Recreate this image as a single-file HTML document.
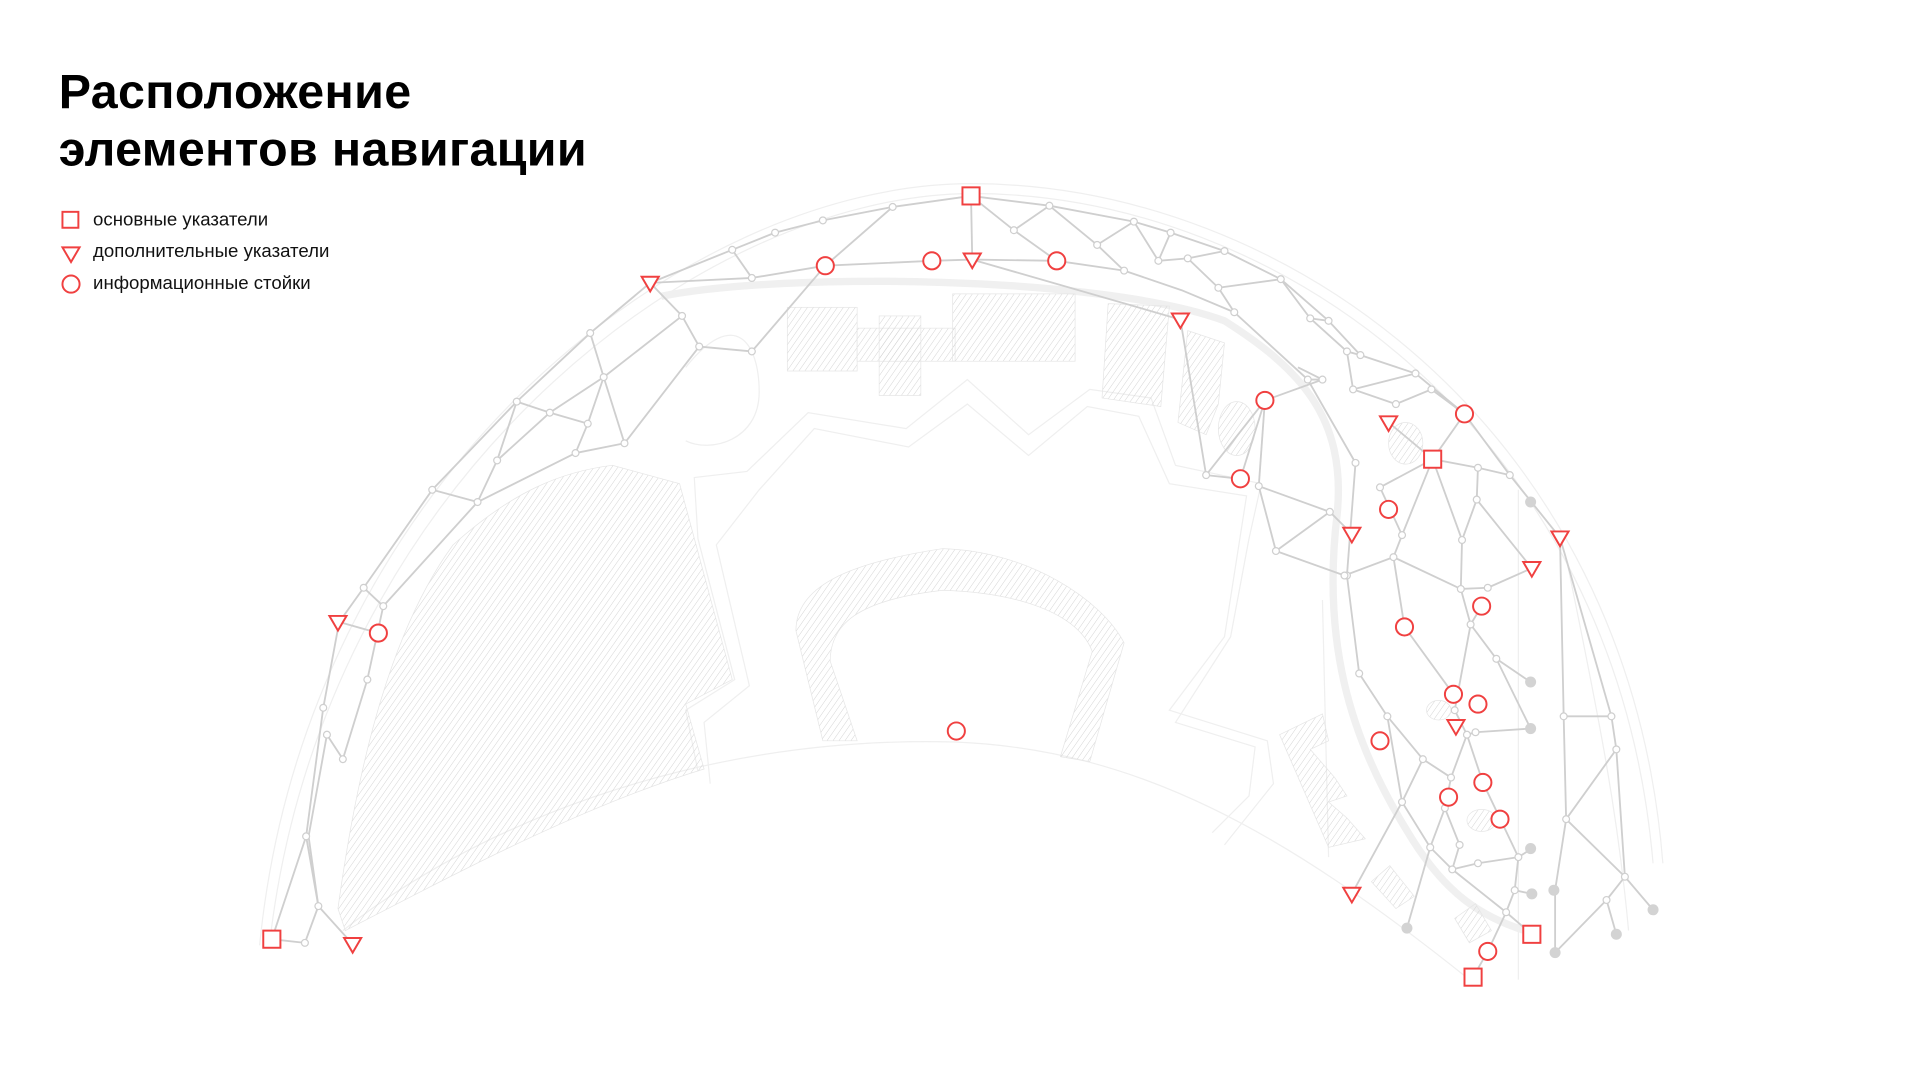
<!DOCTYPE html>
<html><head><meta charset="utf-8"><style>
html,body{margin:0;padding:0;background:#fff;}
svg{display:block}
</style></head><body>
<svg width="1920" height="1080" viewBox="0 0 1568 882" xmlns="http://www.w3.org/2000/svg">
<defs>
<pattern id="h" width="4" height="4" patternUnits="userSpaceOnUse" patternTransform="rotate(35)">
<line x1="0" y1="0" x2="0" y2="4" stroke="#d4d4d4" stroke-width="0.8"/>
</pattern>
</defs>
<rect width="1568" height="882" fill="#fff"/>
<text x="48" y="88" font-family="Liberation Sans, sans-serif" font-weight="bold" font-size="39.5" letter-spacing="0.3" fill="#000">Расположение</text>
<text x="48" y="135" font-family="Liberation Sans, sans-serif" font-weight="bold" font-size="39.5" letter-spacing="0.3" fill="#000">элементов навигации</text>
<g font-family="Liberation Sans, sans-serif" font-size="15.2" fill="#111">
<text x="76" y="184">основные указатели</text>
<text x="76" y="210">дополнительные указатели</text>
<text x="76" y="236">информационные стойки</text>
</g>
<g fill="none" stroke="#f04040" stroke-width="1.6">
<rect x="51" y="173" width="13" height="13"/>
<path d="M51,202 L65,202 L58,214 Z"/>
<circle cx="58" cy="232" r="7"/>
</g>

<g fill="none" stroke="#efefef" stroke-width="1">
<path d="M212,772 C250,390 560,150 793,150 C1050,150 1330,350 1358,705"/>
<path d="M220,772 C262,400 565,160 793,158 C1045,158 1320,355 1350,705"/>
<path d="M280,760 C380,680 560,600 780,606 C930,612 1050,680 1200,800"/>
<path d="M570,630 L560,580 L600,555 L570,440 L567,390 L610,385 L660,337 L740,350 L790,310 L840,355 L890,318 L940,325 L960,380 L1030,395 L1020,440 L1005,520 L960,590 L1025,610 L1020,650 L990,680"/>
<path d="M580,640 L575,590 L612,560 L585,445 L620,400 L665,350 L742,365 L790,330 L840,372 L888,332 L930,340 L955,395 L1018,405 L1000,520 L955,580 L1035,605 L1040,640 L1000,690"/>
<path d="M560,300 C600,250 620,280 620,320 C620,360 580,370 560,360"/>
<path d="M1080,490 L1085,700 M1240,400 L1240,800 M1280,460 C1300,560 1320,650 1330,760"/>
</g>
<path d="M540,242 C640,222 900,225 1000,262 C1060,300 1100,340 1092,420 C1080,520 1100,600 1150,680 C1180,730 1210,750 1252,762" fill="none" stroke="#f0f0f0" stroke-width="6"/>

<g fill="url(#h)" stroke="#e6e6e6" stroke-width="0.6">
<path d="M276,742 C290,640 315,520 370,445 C420,400 460,385 500,380 L555,395 L598,555 L560,575 L575,628 C470,660 360,720 282,760 Z"/>
<rect x="643" y="251" width="57" height="52"/>
<rect x="700" y="268" width="80" height="27"/>
<rect x="718" y="258" width="34" height="65"/>
<rect x="778" y="240" width="100" height="55"/>
<path d="M905,248 L955,250 L948,332 L900,325 Z"/>
<path d="M970,270 L1000,280 L995,330 L985,355 L962,345 Z"/>
<path d="M672,605 L650,515 C650,480 690,460 770,448 C840,450 900,490 918,525 L890,622 L866,618 L892,532 C880,500 830,484 770,482 C700,490 678,510 678,540 L700,605 Z"/>
<path d="M1045,600 L1080,583 L1085,605 L1070,612 L1090,635 L1100,650 L1085,655 L1100,668 L1115,685 L1085,692 Z"/>
<path d="M1120,720 L1135,707 L1155,732 L1140,742 Z"/>
<path d="M1188,750 L1205,738 L1218,760 L1200,770 Z"/>
<ellipse cx="1148" cy="362" rx="14" ry="17"/>
<ellipse cx="1175" cy="580" rx="10" ry="8"/>
<ellipse cx="1210" cy="670" rx="12" ry="9"/>
<ellipse cx="1010" cy="350" rx="15" ry="22"/>
</g>

<g fill="none" stroke="#cfcfcf" stroke-width="1.5" stroke-linejoin="round">
<polyline points="222,767 250,683 264,578 277,508 297,480 353,400 422,328 482,272 531,231 598,204 633,190 672,180 729,169 793,160 857,168 926,181 956,190 1000,205 1046,228 1085,262 1111,290 1156,305 1196,338 1233,388 1274,439 1277,585 1279,669 1270,727 1270,778"/>
<polyline points="288,771 260,740 252,683 267,600 280,620 300,555 313,495 390,410 470,370 510,362 571,283 557,258 531,231"/>
<polyline points="390,410 406,376 449,337 493,308 482,272"/>
<polyline points="571,283 614,287 674,217 729,169"/>
<polyline points="531,231 614,227 674,217 761,213 794,212 863,213 918,221 965,237 1008,255 1068,310 1107,378 1100,470 1110,550 1133,585 1145,655 1168,692 1186,710 1230,745 1215,777 1203,798"/>
<polyline points="598,204 614,227"/>
<polyline points="793,160 794,212"/>
<polyline points="793,160 828,188 857,168"/>
<polyline points="828,188 863,213"/>
<polyline points="857,168 896,200 926,181"/>
<polyline points="896,200 918,221"/>
<polyline points="926,181 946,213 956,190"/>
<polyline points="946,213 970,211 1000,205"/>
<polyline points="970,211 995,235 1046,228"/>
<polyline points="995,235 1008,255"/>
<polyline points="1046,228 1070,260 1085,262"/>
<polyline points="1070,260 1100,287 1111,290"/>
<polyline points="1100,287 1105,318 1156,305"/>
<polyline points="1105,318 1140,330 1169,318 1196,338"/>
<polyline points="1060,300 1080,310 1068,310"/>
<polyline points="794,212 964,261 985,388 1013,391 1033,327 985,388"/>
<polyline points="1033,327 1028,397"/>
<polyline points="1033,327 1080,310"/>
<polyline points="1028,397 1086,418 1104,436"/>
<polyline points="1028,397 1042,450 1086,418"/>
<polyline points="1042,450 1098,470 1138,455"/>
<polyline points="1138,455 1147,512 1187,567"/>
<polyline points="1138,455 1193,481 1215,480 1251,464"/>
<polyline points="1193,481 1194,441 1170,375 1145,437 1138,455"/>
<polyline points="1170,375 1207,382 1233,388"/>
<polyline points="1207,382 1206,408 1194,441"/>
<polyline points="1206,408 1251,464"/>
<polyline points="1196,338 1170,375"/>
<polyline points="1134,345 1170,375 1127,398"/>
<polyline points="1145,437 1127,398"/>
<polyline points="1201,510 1210,495"/>
<polyline points="1201,510 1222,538 1250,557"/>
<polyline points="1193,481 1201,510 1188,580"/>
<polyline points="1222,538 1250,595"/>
<polyline points="1188,580 1198,600 1205,598 1250,595"/>
<polyline points="1198,600 1185,635 1180,660 1168,692"/>
<polyline points="1133,585 1162,620 1185,635"/>
<polyline points="1162,620 1145,655 1104,730"/>
<polyline points="1186,710 1207,705 1240,700 1251,693"/>
<polyline points="1240,700 1211,639 1198,600"/>
<polyline points="1240,700 1237,727 1251,730"/>
<polyline points="1237,727 1230,745 1251,763"/>
<polyline points="1168,692 1149,758"/>
<polyline points="1180,660 1192,690 1186,710"/>
<polyline points="1277,585 1316,585 1320,612 1279,669 1327,716 1350,743"/>
<polyline points="1274,439 1316,585"/>
<polyline points="1320,612 1327,716 1312,735 1270,778"/>
<polyline points="1312,735 1320,763"/>
<polyline points="297,480 313,495"/>
<polyline points="277,508 309,517"/>
<polyline points="250,683 260,740 249,770 222,767"/>
<polyline points="353,400 390,410"/>
<polyline points="406,376 422,328 449,337 480,346 470,370"/>
<polyline points="480,346 493,308 557,258"/>
<polyline points="493,308 510,362"/>
</g>
<g fill="#fff" stroke="#cfcfcf" stroke-width="1">
<circle cx="250" cy="683" r="2.8"/><circle cx="264" cy="578" r="2.8"/><circle cx="297" cy="480" r="2.8"/><circle cx="353" cy="400" r="2.8"/><circle cx="422" cy="328" r="2.8"/><circle cx="482" cy="272" r="2.8"/><circle cx="598" cy="204" r="2.8"/><circle cx="633" cy="190" r="2.8"/><circle cx="672" cy="180" r="2.8"/><circle cx="729" cy="169" r="2.8"/><circle cx="857" cy="168" r="2.8"/><circle cx="926" cy="181" r="2.8"/><circle cx="956" cy="190" r="2.8"/><circle cx="1000" cy="205" r="2.8"/><circle cx="1046" cy="228" r="2.8"/><circle cx="1085" cy="262" r="2.8"/><circle cx="1111" cy="290" r="2.8"/><circle cx="1156" cy="305" r="2.8"/><circle cx="1233" cy="388" r="2.8"/><circle cx="1277" cy="585" r="2.8"/><circle cx="1279" cy="669" r="2.8"/><circle cx="260" cy="740" r="2.8"/><circle cx="249" cy="770" r="2.8"/><circle cx="267" cy="600" r="2.8"/><circle cx="280" cy="620" r="2.8"/><circle cx="300" cy="555" r="2.8"/><circle cx="313" cy="495" r="2.8"/><circle cx="390" cy="410" r="2.8"/><circle cx="470" cy="370" r="2.8"/><circle cx="510" cy="362" r="2.8"/><circle cx="571" cy="283" r="2.8"/><circle cx="557" cy="258" r="2.8"/><circle cx="406" cy="376" r="2.8"/><circle cx="449" cy="337" r="2.8"/><circle cx="480" cy="346" r="2.8"/><circle cx="493" cy="308" r="2.8"/><circle cx="614" cy="287" r="2.8"/><circle cx="614" cy="227" r="2.8"/><circle cx="828" cy="188" r="2.8"/><circle cx="896" cy="200" r="2.8"/><circle cx="918" cy="221" r="2.8"/><circle cx="946" cy="213" r="2.8"/><circle cx="970" cy="211" r="2.8"/><circle cx="995" cy="235" r="2.8"/><circle cx="1008" cy="255" r="2.8"/><circle cx="1070" cy="260" r="2.8"/><circle cx="1100" cy="287" r="2.8"/><circle cx="1105" cy="318" r="2.8"/><circle cx="1140" cy="330" r="2.8"/><circle cx="1169" cy="318" r="2.8"/><circle cx="1068" cy="310" r="2.8"/><circle cx="1107" cy="378" r="2.8"/><circle cx="1100" cy="470" r="2.8"/><circle cx="1110" cy="550" r="2.8"/><circle cx="1133" cy="585" r="2.8"/><circle cx="1145" cy="655" r="2.8"/><circle cx="1168" cy="692" r="2.8"/><circle cx="1186" cy="710" r="2.8"/><circle cx="1230" cy="745" r="2.8"/><circle cx="985" cy="388" r="2.8"/><circle cx="1028" cy="397" r="2.8"/><circle cx="1080" cy="310" r="2.8"/><circle cx="1086" cy="418" r="2.8"/><circle cx="1042" cy="450" r="2.8"/><circle cx="1098" cy="470" r="2.8"/><circle cx="1138" cy="455" r="2.8"/><circle cx="1193" cy="481" r="2.8"/><circle cx="1215" cy="480" r="2.8"/><circle cx="1194" cy="441" r="2.8"/><circle cx="1145" cy="437" r="2.8"/><circle cx="1207" cy="382" r="2.8"/><circle cx="1206" cy="408" r="2.8"/><circle cx="1127" cy="398" r="2.8"/><circle cx="1201" cy="510" r="2.8"/><circle cx="1222" cy="538" r="2.8"/><circle cx="1188" cy="580" r="2.8"/><circle cx="1198" cy="600" r="2.8"/><circle cx="1205" cy="598" r="2.8"/><circle cx="1185" cy="635" r="2.8"/><circle cx="1180" cy="660" r="2.8"/><circle cx="1162" cy="620" r="2.8"/><circle cx="1207" cy="705" r="2.8"/><circle cx="1240" cy="700" r="2.8"/><circle cx="1237" cy="727" r="2.8"/><circle cx="1192" cy="690" r="2.8"/><circle cx="1316" cy="585" r="2.8"/><circle cx="1320" cy="612" r="2.8"/><circle cx="1327" cy="716" r="2.8"/><circle cx="1312" cy="735" r="2.8"/>
</g>
<g fill="#d3d3d3">
<circle cx="1250" cy="410" r="4.5"/><circle cx="1250" cy="557" r="4.5"/><circle cx="1250" cy="595" r="4.5"/><circle cx="1250" cy="693" r="4.5"/><circle cx="1251" cy="730" r="4.5"/><circle cx="1269" cy="727" r="4.5"/><circle cx="1149" cy="758" r="4.5"/><circle cx="1270" cy="778" r="4.5"/><circle cx="1320" cy="763" r="4.5"/><circle cx="1350" cy="743" r="4.5"/>
</g>

<g fill="#fff" stroke="#f04040" stroke-width="1.6">
<rect x="786" y="153" width="14" height="14"/>
<rect x="215" y="760" width="14" height="14"/>
<rect x="1163" y="368" width="14" height="14"/>
<rect x="1244" y="756" width="14" height="14"/>
<rect x="1196" y="791" width="14" height="14"/>
<path d="M524,226 L538,226 L531,238 Z"/>
<path d="M787,207 L801,207 L794,219 Z"/>
<path d="M957,256 L971,256 L964,268 Z"/>
<path d="M1127,340 L1141,340 L1134,352 Z"/>
<path d="M1097,431 L1111,431 L1104,443 Z"/>
<path d="M1267,434 L1281,434 L1274,446 Z"/>
<path d="M1244,459 L1258,459 L1251,471 Z"/>
<path d="M269,503 L283,503 L276,515 Z"/>
<path d="M1182,588 L1196,588 L1189,600 Z"/>
<path d="M1097,725 L1111,725 L1104,737 Z"/>
<path d="M281,766 L295,766 L288,778 Z"/>
<circle cx="674" cy="217" r="7"/><circle cx="761" cy="213" r="7"/><circle cx="863" cy="213" r="7"/><circle cx="1033" cy="327" r="7"/><circle cx="1196" cy="338" r="7"/><circle cx="1013" cy="391" r="7"/><circle cx="1134" cy="416" r="7"/><circle cx="1210" cy="495" r="7"/><circle cx="309" cy="517" r="7"/><circle cx="1147" cy="512" r="7"/><circle cx="1187" cy="567" r="7"/><circle cx="1207" cy="575" r="7"/><circle cx="781" cy="597" r="7"/><circle cx="1127" cy="605" r="7"/><circle cx="1211" cy="639" r="7"/><circle cx="1183" cy="651" r="7"/><circle cx="1225" cy="669" r="7"/><circle cx="1215" cy="777" r="7"/>
</g>
</svg>
</body></html>
